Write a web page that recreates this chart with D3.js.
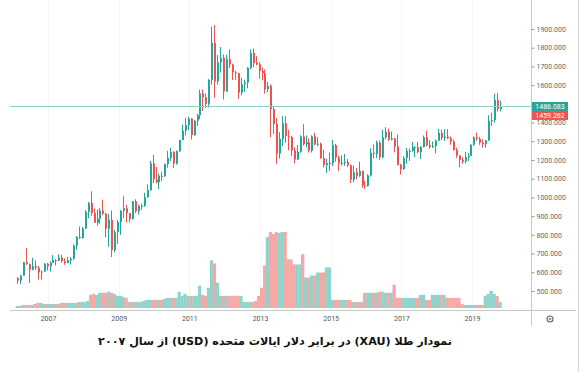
<!DOCTYPE html>
<html>
<head>
<meta charset="utf-8">
<script src="https://cdn.jsdelivr.net/npm/d3@7"></script>
<style>
  body { margin: 0; background: #fff; }
  text { font-family: Roboto, "DejaVu Sans", sans-serif; }
</style>
</head>
<body>
<div id="chart"></div>
<script>
// Monthly XAU/USD candles, first candle = Feb 2006
var firstMonth = new Date(2006, 1, 1);

var opens = [
  569,556,582,654,643,614,633,624,599,604,646,                // 2006
  632,651,665,662,679,659,650,665,673,743,789,783,            // 2007
  834,923,971,917,865,886,930,913,833,880,718,814,            // 2008
  869,928,942,916,884,979,926,954,955,1001,1040,1182,         // 2009
  1096,1081,1116,1113,1179,1212,1244,1181,1247,1307,1357,1386,// 2010
  1421,1333,1410,1439,1556,1536,1500,1628,1826,1620,1722,1746,// 2011
  1566,1738,1710,1669,1664,1560,1604,1614,1693,1773,1719,1711,// 2012
  1676,1663,1578,1596,1472,1393,1234,1313,1396,1327,1323,1251,// 2013
  1202,1244,1326,1284,1295,1250,1327,1282,1287,1210,1172,1183,// 2014
  1184,1279,1213,1183,1184,1190,1172,1095,1134,1115,1142,1065,// 2015
  1061,1118,1238,1233,1293,1215,1321,1351,1309,1316,1272,1173,// 2016
  1152,1211,1249,1249,1268,1269,1242,1269,1322,1280,1271,1275,// 2017
  1303,1345,1318,1325,1316,1299,1253,1224,1201,1192,1215,1222,// 2018
  1282,1321,1313,1292,1284,1305,1409,1413,1520,1472           // 2019
];

var highs = [
  574,586,654,730,646,677,664,633,610,649,650,
  658,692,671,696,694,674,683,682,749,795,845,842,
  932,976,1033,941,936,943,988,918,912,930,827,880,
  932,1006,960,917,981,990,962,967,1025,1070,1195,1227,
  1162,1128,1138,1180,1249,1265,1246,1251,1308,1388,1425,1432,
  1424,1412,1447,1576,1577,1555,1632,1913,1921,1761,1803,1764,
  1763,1791,1715,1677,1666,1640,1629,1696,1790,1796,1755,1723,
  1694,1684,1617,1605,1488,1424,1348,1434,1434,1361,1330,1268,
  1280,1332,1392,1331,1315,1332,1345,1322,1293,1255,1208,1239,
  1307,1286,1224,1224,1232,1205,1176,1170,1157,1191,1143,1088,
  1124,1263,1283,1304,1304,1362,1375,1367,1352,1318,1337,1180,
  1220,1264,1261,1296,1273,1296,1275,1331,1357,1306,1299,1309,
  1366,1362,1365,1365,1326,1309,1266,1225,1214,1243,1237,1284,
  1326,1347,1324,1310,1306,1439,1453,1555,1557,1517
];

var lows = [
  538,537,581,640,543,610,612,561,560,603,609,
  603,649,636,660,651,640,648,641,666,722,777,780,
  831,889,902,864,849,859,905,787,736,681,706,752,
  800,890,866,866,882,916,908,933,950,998,1035,1076,
  1075,1044,1088,1111,1160,1195,1157,1175,1243,1305,1331,1360,
  1309,1329,1383,1418,1462,1477,1480,1602,1532,1604,1667,1523,
  1563,1691,1627,1628,1527,1546,1564,1583,1685,1695,1705,1635,
  1626,1555,1562,1321,1339,1180,1208,1275,1292,1251,1221,1182,
  1202,1238,1277,1268,1240,1240,1281,1273,1206,1161,1131,1142,
  1167,1190,1142,1170,1169,1162,1077,1080,1098,1110,1052,1046,
  1058,1111,1208,1211,1200,1208,1310,1302,1304,1241,1171,1123,
  1146,1180,1195,1244,1214,1236,1205,1267,1272,1260,1264,1236,
  1303,1307,1302,1311,1282,1251,1211,1160,1180,1182,1196,1221,
  1275,1303,1281,1266,1266,1301,1382,1400,1459,1459
];

var closes = [
  556,582,654,643,614,633,624,599,604,646,632,
  651,665,662,679,659,650,665,673,743,789,783,834,
  923,971,917,865,886,930,913,833,880,718,814,869,
  928,942,916,884,979,926,954,955,1001,1040,1182,1096,
  1081,1116,1113,1179,1212,1244,1181,1247,1307,1357,1386,1421,
  1333,1410,1439,1556,1536,1500,1628,1826,1620,1722,1746,1566,
  1738,1710,1669,1664,1560,1604,1614,1693,1773,1719,1711,1676,
  1663,1578,1596,1472,1393,1234,1313,1396,1327,1323,1251,1202,
  1244,1326,1284,1295,1250,1327,1282,1287,1210,1172,1183,1184,
  1279,1213,1183,1184,1190,1172,1095,1134,1115,1142,1065,1061,
  1118,1238,1233,1293,1215,1321,1351,1309,1316,1272,1173,1152,
  1211,1249,1249,1268,1269,1242,1269,1322,1280,1271,1275,1303,
  1345,1318,1325,1316,1299,1253,1224,1201,1192,1215,1222,1282,
  1321,1313,1292,1284,1305,1409,1413,1520,1472,1486
];

var volumes = [
  2,2,3,3,3,3,4,5,5,4,4,
  4,4,4,4,5,5,5,5,5,5,6,6,
  6,7,13,14,13,15,15,15,16,15,14,12,
  12,11,10,6,6,6,6,6,7,8,8,8,
  8,8,8,9,10,10,10,10,16,12,14,12,
  12,12,12,22,13,12,20,47,44,25,12,12,
  12,12,12,12,12,12,6,6,6,6,7,12,
  20,42,70,75,73,75,74,75,75,48,48,43,
  43,43,53,30,30,32,32,35,35,35,40,40,
  8,8,8,8,8,8,8,6,6,6,6,15,
  15,15,15,15,16,16,15,15,15,23,10,10,
  10,10,10,10,10,10,13,13,8,8,13,13,
  13,13,13,10,10,10,10,10,4,3,3,3,
  3,3,3,3,12,14,17,14,12,6
];

// 1500 sits under the last-price labels, so it has no text of its own
var priceTicks = [500,600,700,800,900,1000,1100,1200,1300,1400,1600,1700,1800,1900];
var yearTicks = [2007,2009,2011,2013,2015,2017,2019];
var lastPrice = 1486.083;
var prevPrice = 1459.262;
var chartTitle = "نمودار طلا (XAU) در برابر دلار ایالات متحده (USD) از سال ۲۰۰۷";

var upColor = "#26a69a", downColor = "#ef5350";
var upVol = "#8fd4cc", downVol = "#f6a8a6";

var svgWidth = 588, svgHeight = 385;
var plotLeft = 10, axisX = 531, bottomY = 310;

var svg = d3.select("#chart").append("svg")
  .attr("width", svgWidth)
  .attr("height", svgHeight);

var bars = opens.map(function(o, i) {
  return {
    date: d3.timeMonth.offset(firstMonth, i),
    open: o, high: highs[i], low: lows[i], close: closes[i], volume: volumes[i]
  };
});

// Scales
var x = d3.scaleTime()
  .domain([new Date(2006, 0, 1), new Date(2020, 0, 1)])
  .range([12.7, 507.3]);

var y = d3.scaleLinear()
  .domain([500, 1900])
  .range([291, 29]);

var yVol = d3.scaleLinear()
  .domain([0, 75])
  .range([308, 232]);

// faint vertical grid at year labels
svg.append("g").selectAll("line")
  .data(yearTicks)
  .enter().append("line")
  .attr("x1", d => Math.round(x(new Date(d, 0, 1))) + 0.5)
  .attr("x2", d => Math.round(x(new Date(d, 0, 1))) + 0.5)
  .attr("y1", 0).attr("y2", bottomY)
  .attr("stroke", "#f4f5f8");

function monthWidth(d) { return x(d3.timeMonth.offset(d.date, 1)) - x(d.date); }
function center(d) { return Math.round(x(d.date) + monthWidth(d) / 2); }

// Volume bars
svg.append("g").selectAll("rect")
  .data(bars)
  .enter().append("rect")
  .attr("x", d => x(d.date))
  .attr("width", d => monthWidth(d) + 0.3)
  .attr("y", d => yVol(d.volume))
  .attr("height", d => yVol(0) - yVol(d.volume))
  .attr("fill", d => d.close >= d.open ? upVol : downVol);

// Candles: wicks
var candles = svg.append("g");
candles.selectAll("line")
  .data(bars)
  .enter().append("line")
  .attr("x1", d => center(d) + 0.5)
  .attr("x2", d => center(d) + 0.5)
  .attr("y1", d => y(d.high))
  .attr("y2", d => y(d.low))
  .attr("stroke", d => d.close >= d.open ? upColor : downColor)
  .attr("stroke-width", 1);

// Candles: bodies
candles.selectAll("rect")
  .data(bars)
  .enter().append("rect")
  .attr("x", d => center(d))
  .attr("width", 2)
  .attr("y", d => y(Math.max(d.open, d.close)))
  .attr("height", d => Math.max(1, Math.abs(y(d.open) - y(d.close))))
  .attr("fill", d => d.close >= d.open ? upColor : downColor);

// Last price line
svg.append("line")
  .attr("x1", plotLeft).attr("x2", axisX)
  .attr("y1", Math.round(y(lastPrice)) + 0.5)
  .attr("y2", Math.round(y(lastPrice)) + 0.5)
  .attr("stroke", "#8fd1ca")
  .attr("stroke-width", 1);

// Price axis (right)
var rightAxis = d3.axisRight(y)
  .tickValues(priceTicks)
  .tickFormat(d3.format(".3f"))
  .tickSize(3)
  .tickPadding(2);

var axisG = svg.append("g")
  .attr("transform", `translate(${axisX + 0.5}, 0)`)
  .call(rightAxis);
axisG.select(".domain").attr("stroke", "#c8c8c8");
axisG.selectAll(".tick line").attr("stroke", "#999");
axisG.selectAll(".tick text")
  .attr("fill", "#666")
  .style("font-size", "7px");
axisG.select(".domain").attr("d", `M0,0V${bottomY + 16}`);

// Price labels
var lastY = y(lastPrice);
var prevY = Math.max(y(prevPrice), lastY + 9);
var labels = [
  { v: lastPrice, cy: lastY, fill: upColor },
  { v: prevPrice, cy: prevY, fill: downColor }
];
var labelG = svg.append("g").selectAll("g")
  .data(labels)
  .enter().append("g");
labelG.append("rect")
  .attr("x", axisX + 1)
  .attr("y", d => d.cy - 4.5)
  .attr("width", 36)
  .attr("height", 9)
  .attr("fill", d => d.fill);
labelG.append("text")
  .attr("x", axisX + 19)
  .attr("y", d => d.cy)
  .attr("dy", "0.35em")
  .attr("text-anchor", "middle")
  .attr("fill", "#fff")
  .style("font-size", "7px")
  .text(d => d3.format(".3f")(d.v));

// Time axis (bottom)
var bottomAxis = d3.axisBottom(x)
  .tickValues(yearTicks.map(d => new Date(d, 0, 1)))
  .tickFormat(d3.timeFormat("%Y"))
  .tickSize(0)
  .tickPadding(6);

var xAxisG = svg.append("g")
  .attr("transform", `translate(0, ${bottomY})`)
  .call(bottomAxis);
xAxisG.select(".domain").remove();
xAxisG.selectAll(".tick text")
  .attr("fill", "#555")
  .style("font-size", "7px");

svg.append("line")
  .attr("x1", plotLeft).attr("x2", 576)
  .attr("y1", bottomY + 0.5).attr("y2", bottomY + 0.5)
  .attr("stroke", "#c8c8c8");

// right frame
svg.append("line")
  .attr("x1", 578.5).attr("x2", 578.5)
  .attr("y1", 0).attr("y2", 372)
  .attr("stroke", "#d4d4d4");

// settings gear
var gear = svg.append("g").attr("transform", "translate(550, 319)");
gear.append("circle").attr("r", 3).attr("fill", "none").attr("stroke", "#666").attr("stroke-width", 1.1);
gear.append("circle").attr("r", 1).attr("fill", "none").attr("stroke", "#666").attr("stroke-width", 0.8);

// Title
var title = svg.append("text")
  .attr("x", 275)
  .attr("y", 345)
  .attr("text-anchor", "middle")
  .attr("direction", "rtl")
  .style("font-family", "'DejaVu Sans', sans-serif")
  .style("font-weight", "bold")
  .style("font-size", "14px")
  .attr("fill", "#111")
  .text(chartTitle);

var tw = title.node().getComputedTextLength();
title.style("font-size", (14 * 354 / tw).toFixed(2) + "px");
</script>
</body>
</html>
